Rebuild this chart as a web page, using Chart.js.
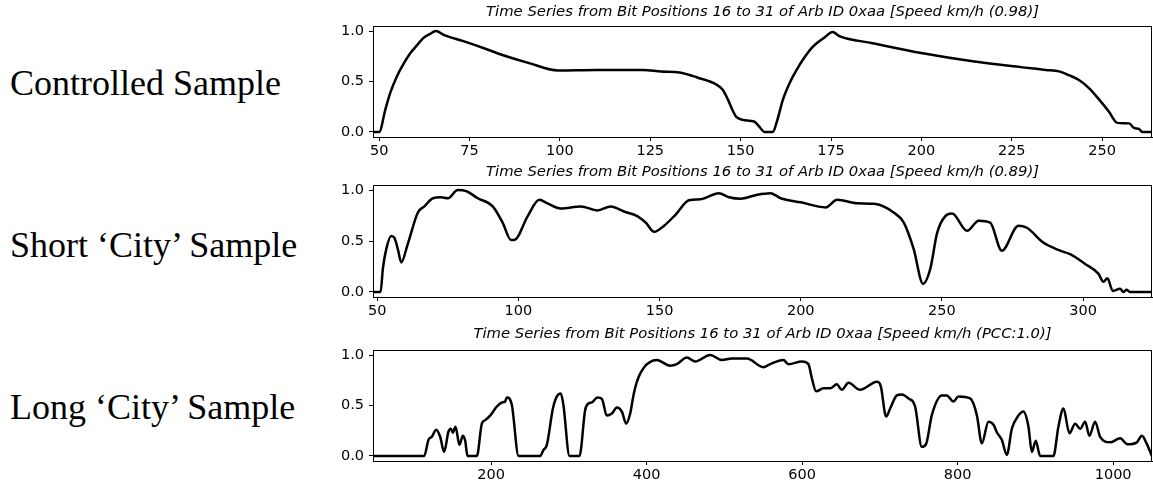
<!DOCTYPE html>
<html>
<head>
<meta charset="utf-8">
<script src="https://cdn.jsdelivr.net/npm/chart.js@4.4.1/dist/chart.umd.min.js"></script>
<style>
  html, body { margin: 0; padding: 0; background: #fff; }
  #wrap { position: relative; width: 1153px; height: 488px; overflow: hidden; }
  .label {
    position: absolute; left: 10px;
    font-family: "Liberation Serif", "Times New Roman", serif;
    font-size: 36px; line-height: 36px; color: #000; white-space: nowrap;
  }
  canvas { position: absolute; left: 330px; }
</style>
</head>
<body>
<div id="wrap">
  <div class="label" style="top:65px">Controlled Sample</div>
  <div class="label" style="top:227px">Short ‘City’ Sample</div>
  <div class="label" style="top:389px">Long ‘City’ Sample</div>
  <canvas id="c1" width="823" height="165" style="top:0px"></canvas>
  <canvas id="c2" width="823" height="165" style="top:160px"></canvas>
  <canvas id="c3" width="823" height="165" style="top:323px"></canvas>
</div>
<script>
// [x, y] points, one list per panel
const controlledPoints = [
  [48.3,0],[50,0],[51.7,0.22],[53,0.38],[54.9,0.55],[56.5,0.66],[58.6,0.78],[60.5,0.86],[62.2,0.93],[64,0.97],
  [65.7,1.0],[68,0.96],[73.3,0.9],[79,0.83],[84.3,0.76],[91.7,0.68],[99.5,0.61],[110,0.615],[123,0.615],[128,0.6],
  [133.1,0.59],[138,0.54],[143.3,0.47],[145,0.42],[146.5,0.32],[147.7,0.22],[148.8,0.15],[150.6,0.12],[152.5,0.11],
  [153.9,0.10],[155,0.06],[156.6,0],[158.9,0],[160,0.1],[161.7,0.32],[163.5,0.48],[165.4,0.61],[167.5,0.73],
  [170,0.845],[173,0.93],[175.5,0.99],[177.3,0.95],[186.5,0.88],[200.4,0.78],[214.2,0.70],[228,0.64],[234.4,0.615],
  [238.1,0.60],[241,0.56],[243.6,0.515],[246.5,0.43],[249.2,0.32],[251.9,0.20],[254.2,0.09],[257.5,0.085],
  [258.8,0.04],[260.2,0.03],[261.1,0],[263.8,0]
];
const shortCityPoints = [
  [48.5,0],[51.2,0],[52,0.23],[53.2,0.42],[54.9,0.55],[56.1,0.53],[57.3,0.42],[58.5,0.29],[60.8,0.47],[64.4,0.78],
  [66.7,0.84],[69.7,0.92],[72.6,0.93],[75,0.92],[78.5,1.0],[81.5,0.99],[85.6,0.92],[90.9,0.84],[94.4,0.68],
  [97.4,0.51],[98.5,0.51],[103.3,0.745],[107.4,0.905],[110.3,0.87],[115,0.82],[122.1,0.84],[128,0.80],[132.7,0.84],
  [137.4,0.79],[142.1,0.745],[145.1,0.68],[148.1,0.59],[151.6,0.65],[155.7,0.76],[160.4,0.90],[164.6,0.91],
  [171,0.97],[174.6,0.93],[178.7,0.915],[184.6,0.955],[189.3,0.97],[192.9,0.92],[200,0.88],[208.8,0.83],
  [212.9,0.905],[220,0.87],[225.9,0.865],[232.9,0.78],[236.5,0.68],[240,0.42],[243.3,0.08],[245.9,0.23],
  [248.3,0.58],[251.2,0.745],[253.6,0.77],[258.9,0.60],[263,0.70],[267.1,0.68],[271.2,0.405],[277.1,0.65],
  [280.1,0.63],[285.9,0.485],[291.9,0.405],[295.4,0.37],[300.7,0.275],[305.4,0.18],[307.2,0.10],[308.6,0.135],
  [310.5,0.01],[313.1,0.03],[314.3,0],[315.4,0.02],[316.6,0],[324.4,0]
];
const longCityPoints = [
  [48,0],[113.8,0],[119.4,0.16],[123.7,0.19],[129.3,0.26],[134.4,0.19],[139.5,0.04],[145,0.24],[148.2,0.27],
  [150.7,0.23],[154.1,0.29],[159.2,0.11],[163.6,0.20],[166.6,0.15],[169.5,0],[181.6,0],[188,0.32],[192.3,0.355],
  [198.7,0.40],[207.3,0.49],[213.8,0.53],[218,0.54],[220.2,0.58],[226.6,0.505],[235.2,0],[263,0],[267.3,0.06],
  [271.6,0.11],[279.4,0.47],[284.5,0.59],[289.6,0.62],[293,0.50],[300.7,0],[313.6,0],[320.9,0.455],[325.2,0.52],
  [329.5,0.53],[336.7,0.58],[342.4,0.565],[348.8,0.40],[355.2,0.42],[361.7,0.48],[368.1,0.44],[373.6,0.32],
  [378.8,0.42],[383,0.60],[387.4,0.735],[395.9,0.87],[413.1,0.95],[430.2,0.895],[438.8,0.91],[451.7,0.975],
  [462.4,0.935],[481.7,1.0],[496.7,0.95],[509.6,0.965],[528.9,0.965],[550.2,0.88],[558.8,0.91],[575.9,0.95],
  [582.4,0.91],[599.6,0.935],[608.1,0.91],[612.5,0.77],[618,0.64],[627.4,0.67],[636,0.67],[644.6,0.71],
  [651,0.655],[659.6,0.725],[674.6,0.655],[696.1,0.735],[701.2,0.69],[708,0.39],[713.2,0.47],[721.8,0.60],
  [728.2,0.61],[736.7,0.57],[745.3,0.49],[753.9,0.09],[759.5,0.12],[766.8,0.405],[779.7,0.60],[786.1,0.60],
  [794.6,0.54],[801,0.59],[816.1,0.57],[824.7,0.405],[831.1,0.125],[839.6,0.34],[846.1,0.31],[850.4,0.235],
  [856.8,0.16],[863.3,0.01],[869.7,0.27],[878.2,0.40],[884.6,0.44],[891.1,0.29],[895.4,0.04],[900.5,0.15],
  [906.1,0],[923.2,0],[929.6,0.29],[936.1,0.47],[943.8,0.225],[951.1,0.32],[957.6,0.27],[964,0.34],[969.5,0.20],
  [976.8,0.34],[983.3,0.19],[996.1,0.135],[1009,0.175],[1018.4,0.115],[1030.5,0.135],[1036.9,0.20],
  [1043.3,0.12],[1049.8,0]
];

const yTicks = [0, 0.5, 1.0];
const controlledXTicks = [50, 75, 100, 125, 150, 175, 200, 225, 250];
const shortCityXTicks = [50, 100, 150, 200, 250, 300];
const longCityXTicks = [200, 400, 600, 800, 1000];

const controlledRange = [48.3, 263.8];
const shortCityRange = [48.5, 324.4];
const longCityRange = [48, 1050];

const titles = [
  'Time Series from Bit Positions 16 to 31 of Arb ID 0xaa [Speed km/h (0.98)]',
  'Time Series from Bit Positions 16 to 31 of Arb ID 0xaa [Speed km/h (0.89)]',
  'Time Series from Bit Positions 16 to 31 of Arb ID 0xaa [Speed km/h (PCC:1.0)]'
];

const tickFont = { family: 'DejaVu Sans', size: 14.5 };

// matplotlib-style box around the axes
const framePlugin = {
  id: 'frame',
  afterDraw(chart) {
    const { ctx, chartArea: a } = chart;
    ctx.save();
    ctx.strokeStyle = '#000';
    ctx.lineWidth = 1;
    const l = Math.round(a.left) + 0.5, t = Math.round(a.top) + 0.5;
    const r = Math.round(a.right) - 0.5, b = Math.round(a.bottom) + 0.5;
    ctx.strokeRect(l, t, r - l, b - t);
    ctx.restore();
  }
};

function makeChart(id, points, range, xTicks, title, pad) {
  return new Chart(document.getElementById(id), {
    type: 'line',
    data: {
      datasets: [{
        data: points.map(p => ({ x: p[0], y: p[1] })),
        borderColor: '#000',
        borderWidth: 2.5,
        pointRadius: 0,
        fill: false,
        cubicInterpolationMode: 'monotone'
      }]
    },
    options: {
      responsive: false,
      animation: false,
      events: [],
      layout: { padding: { left: 0, right: 1, top: 0, bottom: 0 } },
      plugins: {
        legend: { display: false },
        tooltip: { enabled: false },
        title: {
          display: true,
          text: title,
          fullSize: false,
          color: '#000',
          font: { family: 'DejaVu Sans', size: 14.8, style: 'italic', weight: 'normal', lineHeight: 1 },
          padding: { top: pad.titleTop, bottom: pad.titleBottom }
        }
      },
      scales: {
        x: {
          type: 'linear',
          min: range[0], max: range[1],
          afterBuildTicks: s => { s.ticks = xTicks.map(v => ({ value: v })); },
          afterFit: s => { s.height = pad.xAxis; },
          grid: { drawOnChartArea: false, drawTicks: true, tickLength: 4, color: '#000' },
          border: { display: true, color: '#000', width: 1 },
          ticks: { color: '#000', font: tickFont, padding: 2, maxRotation: 0, autoSkip: false, callback: v => String(v) }
        },
        y: {
          min: -0.05, max: 1.05,
          afterBuildTicks: s => { s.ticks = yTicks.map(v => ({ value: v })); },
          afterFit: s => { s.width = 43; },
          grid: { drawOnChartArea: false, drawTicks: true, tickLength: 4, color: '#000' },
          border: { display: true, color: '#000', width: 1 },
          ticks: { color: '#000', font: tickFont, padding: 5, callback: v => v.toFixed(1) }
        }
      }
    },
    plugins: [framePlugin]
  });
}

makeChart('c1', controlledPoints, controlledRange, controlledXTicks, titles[0], { titleTop: 5, titleBottom: 6.2, xAxis: 28 });
makeChart('c2', shortCityPoints, shortCityRange, shortCityXTicks, titles[1], { titleTop: 5, titleBottom: 5.2, xAxis: 28 });
makeChart('c3', longCityPoints, longCityRange, longCityXTicks, titles[2], { titleTop: 4, titleBottom: 8.2, xAxis: 27 });
</script>
</body>
</html>
